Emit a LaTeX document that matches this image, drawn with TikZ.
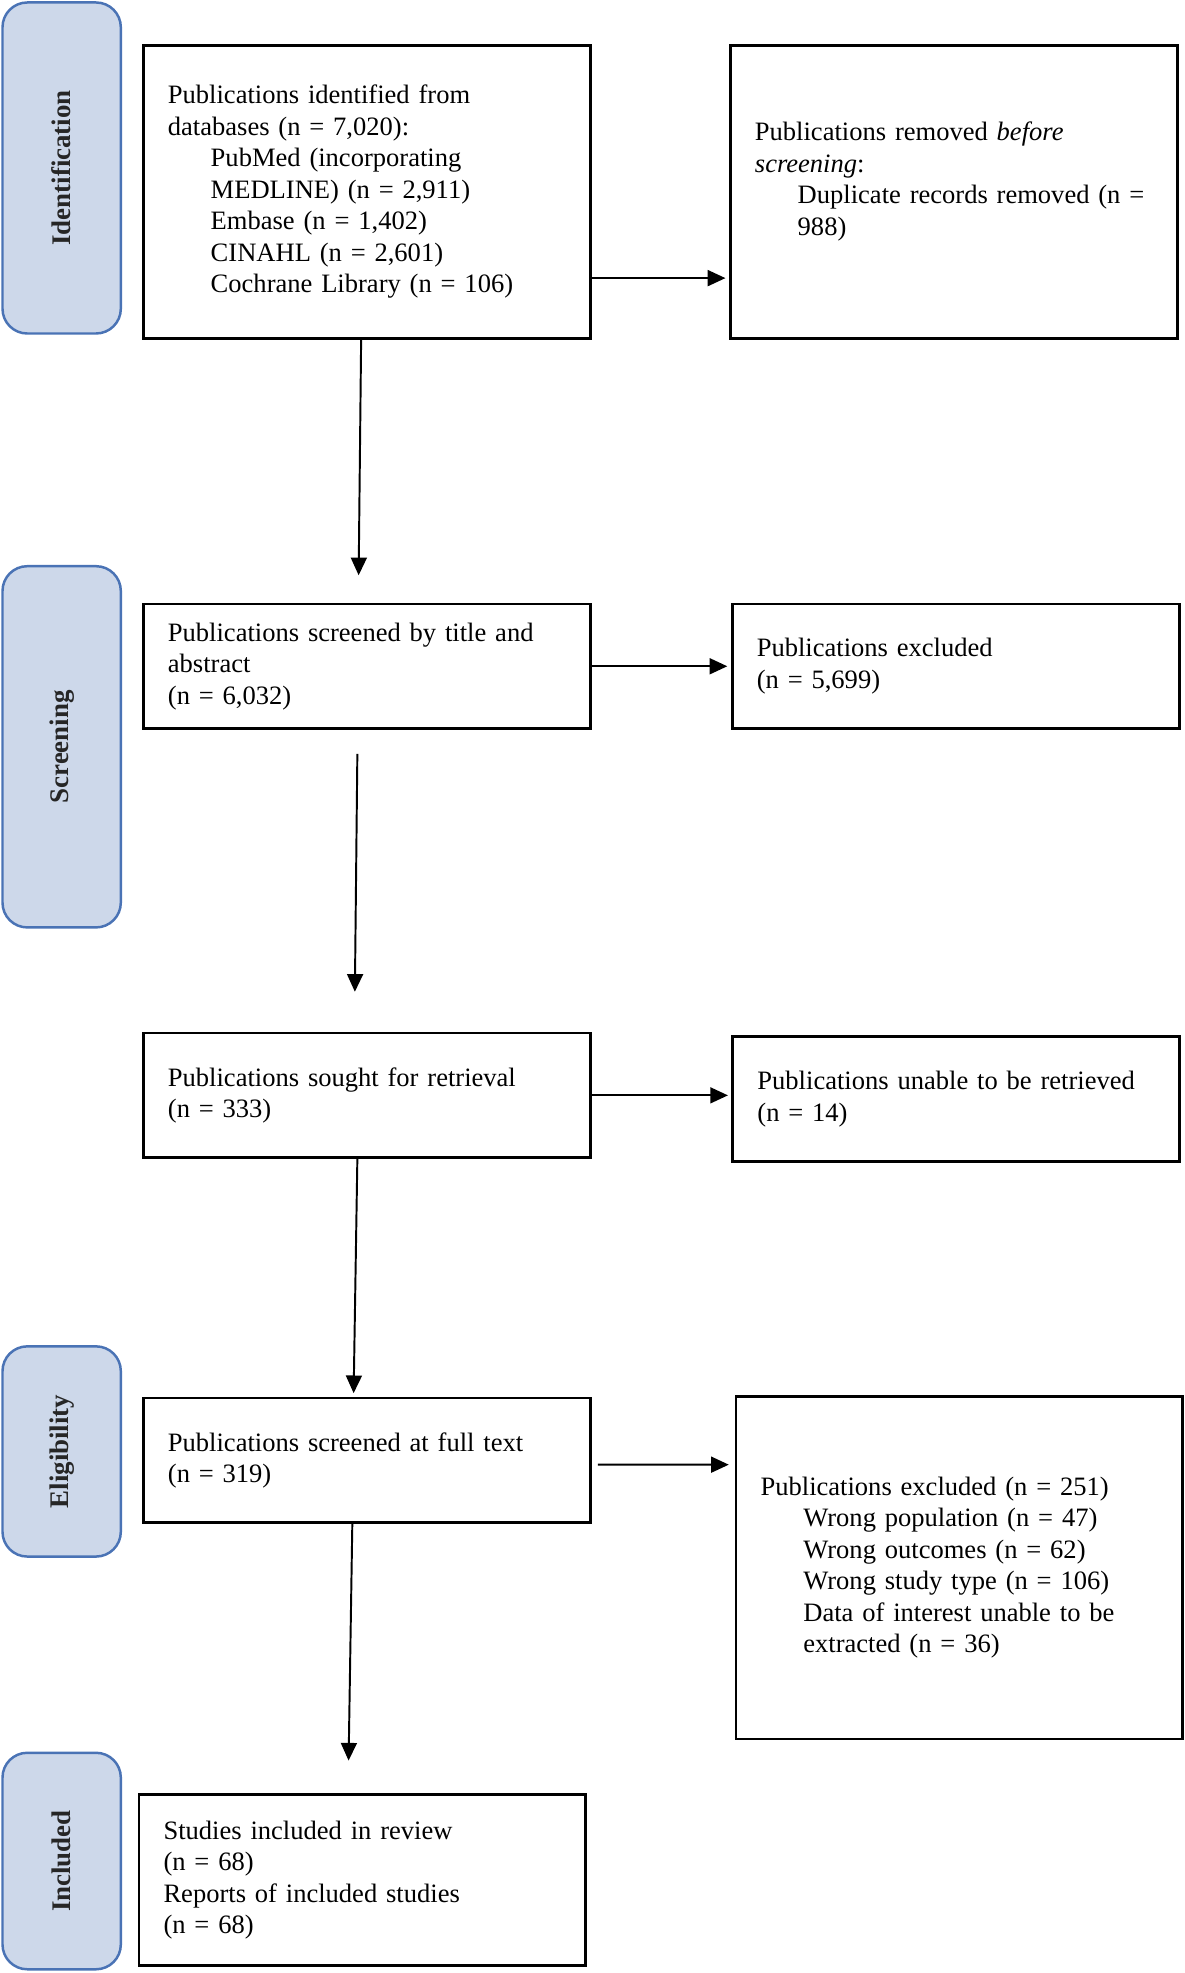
\documentclass[tikz,border=0pt]{standalone}
\usepackage{fontspec}
\setmainfont{Liberation Serif}
\usetikzlibrary{arrows.meta}

\definecolor{phasefill}{HTML}{CDD8EA}
\definecolor{phaseline}{HTML}{4A73B5}
\newcommand{\subind}{\hspace*{0.85cm}}

\begin{document}
\begin{tikzpicture}[x=0.025cm, y=-0.025cm, >={Triangle[length=10pt,width=9pt]}, shorten >=2pt,
    pbox/.style={draw, line width=1.6pt, align=left, text width=7.9cm, inner xsep=0.475cm,
                 minimum width=8.875cm, font=\fontsize{15}{17.8}\selectfont},
    phase/.style={draw=phaseline, fill=phasefill, line width=1.4pt, rounded corners=14pt,
                  minimum height=2.35cm, rotate=90, text=black!85,
                  font=\fontsize{15.2}{17.8}\selectfont\bfseries},
    flow/.style={->, line width=1.1pt}]
    \useasboundingbox (0,0) rectangle (941,1568);

    % Phases {identification, screening, eligibility, included}
    \node [phase, minimum width=6.575cm]   (ident)  at (49,133.5)  {Identification};
    \node [phase, minimum width=7.175cm]   (screen) at (49,593.5)  {Screening};
    \node [phase, minimum width=4.175cm]   (elig)   at (49,1153.5) {Eligibility};
    \node [phase, minimum width=4.3cm]     (incl)   at (49,1479)   {Included};

    % Boxes
    \node [pbox, minimum height=5.825cm]   (identified)  at (291.5,152.5) {Publications identified from\\
        databases (n = 7,020):\\
        \subind PubMed (incorporating\\
        \subind MEDLINE) (n = 2,911)\\
        \subind Embase (n = 1,402)\\
        \subind CINAHL (n = 2,601)\\
        \subind Cochrane Library (n = 106)};
    \node [pbox, minimum height=5.825cm]   (removed)     at (758,152.5)   {Publications removed \textit{before}\\
        \textit{screening}:\\
        \subind Duplicate records removed (n~=\\
        \subind 988)\\[-0.1cm]\mbox{}};
    \node [pbox, minimum height=2.475cm]   (screened)    at (291.5,529.5) {Publications screened by title and\\
        abstract\\ (n = 6,032)};
    \node [pbox, minimum height=2.475cm]   (excluded)    at (759.5,529.5) {Publications excluded\\ (n = 5,699)};
    \node [pbox, minimum height=2.475cm]   (sought)      at (291.5,870.5) {Publications sought for retrieval\\ (n = 333)};
    \node [pbox, minimum height=2.475cm]   (unretrieved) at (760,873.5)   {Publications unable to be retrieved\\ (n = 14)};
    \node [pbox, minimum height=2.475cm]   (fulltext)    at (291.5,1160.5) {Publications screened at full text\\ (n = 319)};
    \node [pbox, minimum height=6.8cm]     (excludedft)  at (762.5,1246)  {Publications excluded (n = 251)\\
        \subind Wrong population (n = 47)\\
        \subind Wrong outcomes (n = 62)\\
        \subind Wrong study type (n = 106)\\
        \subind Data of interest unable to be\\
        \subind extracted (n = 36)};
    \node [pbox, minimum height=3.4cm]     (included)    at (288,1494)    {Studies included in review\\
        (n = 68)\\
        Reports of included studies\\
        (n = 68)};

    % Arrow ends
    \coordinate (to_screened) at (285,460);
    \coordinate (to_sought)   at (282,791);
    \coordinate (to_fulltext) at (281,1110);
    \coordinate (to_included) at (277,1402);
    \coordinate (to_exclft)   at (582,1164);

    % Paths
    \path [flow] ([yshift=-1.7125cm]identified.east) edge ([yshift=-1.7125cm]removed.west);
    \path [flow] (screened)    edge (excluded);
    \path [flow] (sought.east) edge (sought.east -| unretrieved.west);
    \path [flow] ([xshift=0.125cm,yshift=-0.0875cm]fulltext.east) edge (to_exclft);
    \path [flow] ([xshift=-0.1125cm]identified.south) edge (to_screened);
    \path [flow] ([xshift=-0.1875cm,yshift=-0.475cm]screened.south) edge (to_sought);
    \path [flow] ([xshift=-0.1875cm]sought.south) edge (to_fulltext);
    \path [flow] ([xshift=-0.2875cm]fulltext.south) edge (to_included);

\end{tikzpicture}
\end{document}
